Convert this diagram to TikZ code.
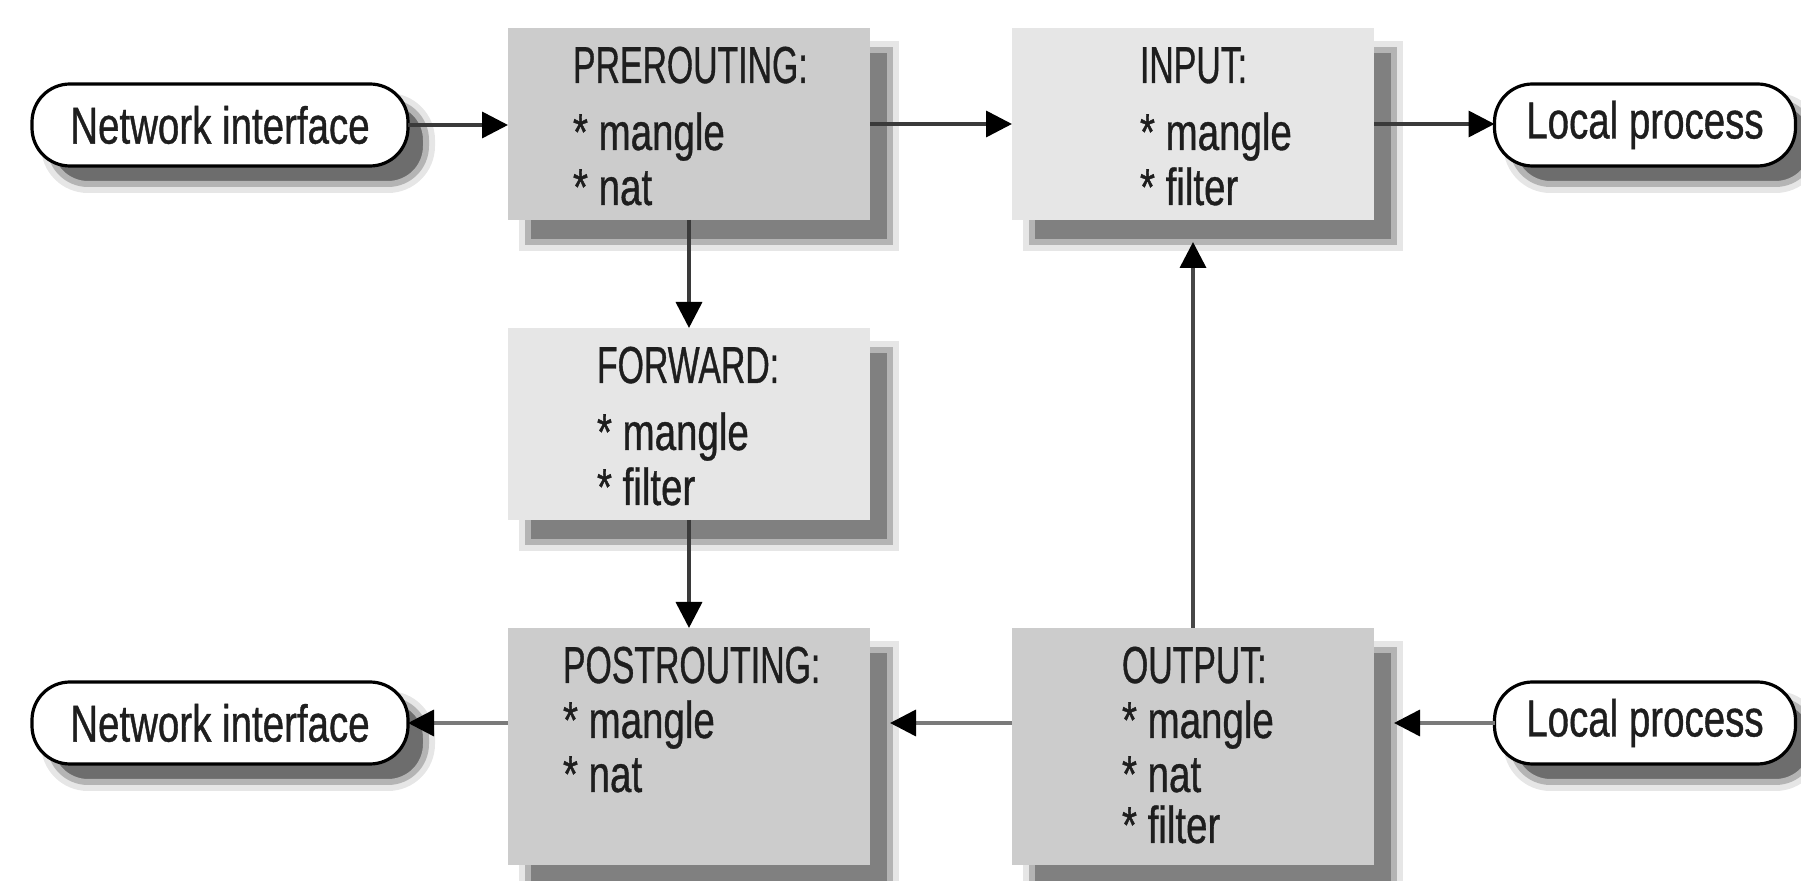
\documentclass[tikz,border=0pt]{standalone}
\usepackage{fontspec}
\setmainfont{Liberation Sans}[FakeStretch=0.74, FakeBold=0.7]
\newfontfamily\hdrfont{Liberation Sans}[FakeStretch=0.65, FakeBold=0.7]
\usetikzlibrary{arrows.meta,calc}
\definecolor{boxdark}{HTML}{CCCCCC}
\definecolor{boxlight}{HTML}{E6E6E6}
\definecolor{shdark}{HTML}{808080}
\definecolor{shlight}{HTML}{B4B4B4}
\definecolor{shfaint}{HTML}{E6E6E6}
\definecolor{linedark}{HTML}{3A3A3A}
\definecolor{linegray}{HTML}{7A7A7A}
\definecolor{txtcol}{HTML}{1E1E1E}
\begin{document}
\begin{tikzpicture}[x={(0.5pt,0)}, y={(0,-0.5pt)},
  every node/.style={outer sep=0pt},
  chainbox/.style={rectangle, draw=none, inner sep=0pt, anchor=north west, minimum width=181pt},
  shadowbox/.style={chainbox, fill=shdark, draw=shlight, line width=3pt,
    preaction={draw=shfaint, line width=9pt}},
  topbox/.style={minimum height=96pt},
  lowbox/.style={minimum height=118.5pt},
  pill/.style={rectangle, rounded corners=19pt, minimum height=41pt, inner sep=0pt,
    fill=white, draw=black, line width=1.6pt, text=txtcol,
    font=\fontsize{26}{30}\selectfont},
  pillshadow/.style={rectangle, rounded corners=19pt, minimum height=41pt, inner sep=0pt,
    fill=shdark!115, draw=shlight, line width=3pt, preaction={draw=shfaint, line width=9pt}},
  txt/.style={inner sep=0pt, anchor=base west, text=txtcol, font=\fontsize{26}{30}\selectfont},
  hdr/.style={txt, font=\fontsize{26}{30}\hdrfont},
  arr/.style={-{Triangle[length=13pt,width=13pt,color=black]}, line width=1.8pt, draw=linedark},
  arrg/.style={arr, draw=linegray}
]
\useasboundingbox (0,0) rectangle (1801,881);

% ---- shadows
\node[shadowbox, topbox] (preSh) at (528,50) {};
\node[shadowbox, topbox] (inputSh) at (1032,50) {};
\node[shadowbox, topbox] (forwardSh) at (528,350) {};
\node[shadowbox, lowbox] (postSh) at (528,650) {};
\node[shadowbox, lowbox] (outputSh) at (1032,650) {};

\node[pillshadow, minimum width=188pt] (netTopSh) at (238,143) {};
\node[pillshadow, minimum width=150.5pt] (localTopSh) at (1663,143) {};
\node[pillshadow, minimum width=188pt] (netBotSh) at (238,741) {};
\node[pillshadow, minimum width=150.5pt] (localBotSh) at (1663,741) {};

% ---- chain boxes
\node[chainbox, topbox, fill=boxdark] (pre) at (508,28) {};
\node[chainbox, topbox, fill=boxlight] (input) at (1012,28) {};
\node[chainbox, topbox, fill=boxlight] (forward) at (508,328) {};
\node[chainbox, lowbox, fill=boxdark] (post) at (508,628) {};
\node[chainbox, lowbox, fill=boxdark] (output) at (1012,628) {};

% ---- texts in boxes
\node[hdr] (preT1) at (573,83) {PREROUTING:};
\node[txt] (preT2) at (573,150) {* mangle};
\node[txt] (preT3) at (573,205) {* nat};

\node[hdr] (inT1) at (1140,83) {INPUT:};
\node[txt] (inT2) at (1140,150) {* mangle};
\node[txt] (inT3) at (1140,205) {* filter};

\node[hdr] (fwT1) at (597,383) {FORWARD:};
\node[txt] (fwT2) at (597,450) {* mangle};
\node[txt] (fwT3) at (597,505) {* filter};

\node[hdr] (poT1) at (563,683) {POSTROUTING:};
\node[txt] (poT2) at (563,738) {* mangle};
\node[txt] (poT3) at (563,792) {* nat};

\node[hdr] (ouT1) at (1122,683) {OUTPUT:};
\node[txt] (ouT2) at (1122,738) {* mangle};
\node[txt] (ouT3) at (1122,792) {* nat};
\node[txt] (ouT4) at (1122,843) {* filter};

% ---- pills
\node[pill, minimum width=188pt] (netTop) at (220,125) {Network interface};
\node[pill, minimum width=150.5pt] (localTop) at (1645,125) {Local process};
\node[pill, minimum width=188pt] (netBot) at (220,723) {Network interface};
\node[pill, minimum width=150.5pt] (localBot) at (1645,723) {Local process};

% ---- connectors
\draw[arr] (netTop.east) -- (netTop.east -| pre.west);
\draw[arr] (pre.east) -- (input.west);
\draw[arr] (input.east) -- (input.east -| localTop.west);
\draw[arr] (pre.south) -- (forward.north);
\draw[arr] (forward.south) -- (post.north);
\draw[arr, draw=black!72] (output.north) -- (output.north |- inputSh.south);
\draw[arrg] (netBot.east -| output.west) -- (netBot.east -| postSh.east);
\draw[arrg] (localBot.west) -- (localBot.west -| outputSh.east);
\draw[arrg] (netBot.east -| post.west) -- (netBot.east);
\end{tikzpicture}
\end{document}
